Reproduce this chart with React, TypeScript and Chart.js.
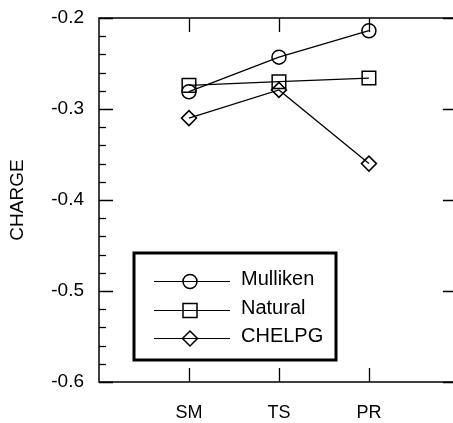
import React, { useEffect, useRef } from 'react';
import { Chart, registerables } from 'chart.js';

Chart.register(...registerables);

const categories = ['SM', 'TS', 'PR'];
const seriesNames = ['Mulliken', 'Natural', 'CHELPG'];
const mulliken = [-0.281, -0.243, -0.214];
const natural = [-0.274, -0.27, -0.266];
const chelpg = [-0.31, -0.279, -0.36];
const yMin = -0.6;
const yMax = -0.2;
const yMajorStep = 0.1;
const yMinorStep = 0.02;
const yTitle = 'CHARGE';

const FONT = '"Liberation Sans", Arial, Helvetica, sans-serif';

type Marker = 'circle' | 'square' | 'diamond';
const markers: Marker[] = ['circle', 'square', 'diamond'];

function drawMarker(ctx: CanvasRenderingContext2D, m: Marker, x: number, y: number) {
  ctx.beginPath();
  if (m === 'circle') {
    ctx.arc(x, y, 7, 0, Math.PI * 2);
  } else if (m === 'square') {
    ctx.rect(x - 7, y - 7, 14, 14);
  } else {
    ctx.moveTo(x, y - 7.5);
    ctx.lineTo(x + 7.5, y);
    ctx.lineTo(x, y + 7.5);
    ctx.lineTo(x - 7.5, y);
    ctx.closePath();
  }
  ctx.stroke();
}

const framePlugin = {
  id: 'framePlugin',
  afterDraw(chart: any) {
    const ctx: CanvasRenderingContext2D = chart.ctx;
    const xs = chart.scales.x;
    const ys = chart.scales.y;
    const { left, right, top, bottom } = chart.chartArea;
    ctx.save();
    ctx.strokeStyle = '#000';
    ctx.lineWidth = 1.5;
    ctx.beginPath();
    ctx.rect(left, top, right - left, bottom - top);
    ctx.stroke();

    const n = Math.round((yMax - yMin) / yMinorStep);
    const perMajor = Math.round(yMajorStep / yMinorStep);
    ctx.lineWidth = 1.3;
    for (let i = 0; i <= n; i++) {
      const v = yMin + i * yMinorStep;
      const py = Math.round(ys.getPixelForValue(v)) + 0.5;
      const major = i % perMajor === 0;
      const len = major ? 14 : 7;
      ctx.beginPath();
      ctx.moveTo(left, py);
      ctx.lineTo(left + len, py);
      if (major) {
        ctx.moveTo(right, py);
        ctx.lineTo(right - 16, py);
      }
      ctx.stroke();
    }
    categories.forEach((_, i) => {
      const px = Math.round(xs.getPixelForValue(i + 1)) + 0.5;
      ctx.beginPath();
      ctx.moveTo(px, bottom);
      ctx.lineTo(px, bottom - 14);
      ctx.moveTo(px, top);
      ctx.lineTo(px, top + 14);
      ctx.stroke();
    });

    const bx = 134, by = 253, bw = 202, bh = 107;
    ctx.fillStyle = '#fff';
    ctx.fillRect(bx, by, bw, bh);
    ctx.lineWidth = 3;
    ctx.strokeRect(bx, by, bw, bh);
    const rows = [281, 310, 338];
    ctx.font = `20px ${FONT}`;
    ctx.textAlign = 'left';
    ctx.textBaseline = 'alphabetic';
    chart.data.datasets.forEach((ds: any, i: number) => {
      const ry = rows[i] + 0.5;
      ctx.lineWidth = 1.2;
      ctx.beginPath();
      ctx.moveTo(154, ry);
      ctx.lineTo(230, ry);
      ctx.stroke();
      ctx.lineWidth = 1.5;
      drawMarker(ctx, markers[i], 190, ry);
      ctx.fillStyle = '#000';
      ctx.fillText(ds.label, 241, rows[i] + 3.5);
    });
    ctx.restore();
  },
};

const markerStyles: any = { circle: 'circle', square: 'rect', diamond: 'rectRot' };
const markerRadius: any = { circle: 7, square: 9.6, diamond: 7.5 };

export default function App() {
  const ref = useRef<HTMLCanvasElement>(null);
  useEffect(() => {
    const canvas = ref.current!;
    const values = [mulliken, natural, chelpg];
    const chart = new Chart(canvas, {
      type: 'line',
      data: {
        datasets: values.map((vals, i) => ({
          label: seriesNames[i],
          data: vals.map((v, j) => ({ x: j + 1, y: v })),
          borderColor: '#000',
          borderWidth: 1.3,
          pointStyle: markerStyles[markers[i]],
          pointRadius: markerRadius[markers[i]],
          pointBorderColor: '#000',
          pointBorderWidth: 1.5,
          pointBackgroundColor: 'rgba(0,0,0,0)',
          tension: 0,
          fill: false,
        })),
      },
      options: {
        responsive: false,
        animation: false,
        devicePixelRatio: 1,
        layout: { padding: { left: 0, top: 18, right: 5, bottom: 0 } },
        plugins: { legend: { display: false }, tooltip: { enabled: false } },
        scales: {
          x: {
            type: 'linear',
            min: 0,
            max: 4,
            grid: { display: false, drawTicks: false },
            border: { display: false },
            afterBuildTicks: (axis: any) => {
              axis.ticks = categories.map((_, i) => ({ value: i + 1 }));
            },
            afterFit: (axis: any) => {
              axis.height = 41;
              axis.paddingLeft = 0;
              axis.paddingRight = 0;
            },
            ticks: {
              autoSkip: false,
              maxRotation: 0,
              padding: 20,
              color: '#000',
              font: { family: FONT, size: 18 },
              callback: (v: any) => categories[Number(v) - 1] ?? '',
            },
          },
          y: {
            type: 'linear',
            min: yMin,
            max: yMax,
            grid: { display: false, drawTicks: false },
            border: { display: false },
            afterFit: (axis: any) => {
              axis.width = 99;
              axis.paddingTop = 0;
              axis.paddingBottom = 0;
            },
            ticks: {
              stepSize: yMajorStep,
              padding: 15,
              color: '#000',
              font: { family: FONT, size: 19 },
              callback: (v: any) => Number(v).toFixed(1),
            },
            title: {
              display: true,
              text: yTitle,
              color: '#000',
              font: { family: FONT, size: 19 },
              padding: { top: 6, bottom: 0 },
            },
          },
        },
      },
      plugins: [framePlugin],
    });
    return () => chart.destroy();
  }, []);
  return (
    <div style={{ position: 'fixed', left: 0, top: 0, width: 453, height: 423, overflow: 'hidden', background: '#fff' }}>
      <canvas ref={ref} width={470} height={423} style={{ width: 470, height: 423, display: 'block' }} />
    </div>
  );
}
